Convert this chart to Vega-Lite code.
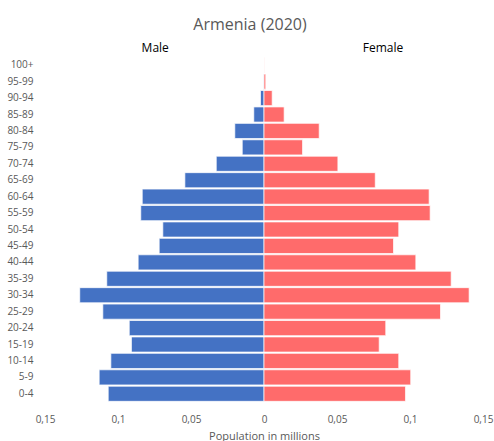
{
  "$schema": "https://vega.github.io/schema/vega-lite/v6.json",
  "width": 438,
  "height": 345,
  "autosize": "none",
  "padding": {"left": 45, "top": 57, "right": 11, "bottom": 39},
  "background": "white",
  "title": {
    "text": "Armenia (2020)",
    "font": "Open Sans",
    "fontSize": 16,
    "fontWeight": "normal",
    "color": "#595959",
    "anchor": "middle",
    "dx": -14,
    "offset": 9
  },
  "config": {
    "view": {"stroke": null},
    "font": "Open Sans"
  },
  "datasets": {
    "pyramid": [
      {"age": "100+", "sex": "Male", "pop": 0.0},
      {"age": "95-99", "sex": "Male", "pop": 0.0003},
      {"age": "90-94", "sex": "Male", "pop": 0.0024},
      {"age": "85-89", "sex": "Male", "pop": 0.0070},
      {"age": "80-84", "sex": "Male", "pop": 0.0200},
      {"age": "75-79", "sex": "Male", "pop": 0.0149},
      {"age": "70-74", "sex": "Male", "pop": 0.0327},
      {"age": "65-69", "sex": "Male", "pop": 0.0542},
      {"age": "60-64", "sex": "Male", "pop": 0.0834},
      {"age": "55-59", "sex": "Male", "pop": 0.0844},
      {"age": "50-54", "sex": "Male", "pop": 0.0693},
      {"age": "45-49", "sex": "Male", "pop": 0.0718},
      {"age": "40-44", "sex": "Male", "pop": 0.0862},
      {"age": "35-39", "sex": "Male", "pop": 0.1077},
      {"age": "30-34", "sex": "Male", "pop": 0.1262},
      {"age": "25-29", "sex": "Male", "pop": 0.1104},
      {"age": "20-24", "sex": "Male", "pop": 0.0923},
      {"age": "15-19", "sex": "Male", "pop": 0.0908},
      {"age": "10-14", "sex": "Male", "pop": 0.1049},
      {"age": "5-9", "sex": "Male", "pop": 0.1129},
      {"age": "0-4", "sex": "Male", "pop": 0.1067},
      {"age": "100+", "sex": "Female", "pop": 0.0001},
      {"age": "95-99", "sex": "Female", "pop": 0.0012},
      {"age": "90-94", "sex": "Female", "pop": 0.0056},
      {"age": "85-89", "sex": "Female", "pop": 0.0138},
      {"age": "80-84", "sex": "Female", "pop": 0.0378},
      {"age": "75-79", "sex": "Female", "pop": 0.0264},
      {"age": "70-74", "sex": "Female", "pop": 0.0506},
      {"age": "65-69", "sex": "Female", "pop": 0.0762},
      {"age": "60-64", "sex": "Female", "pop": 0.1131},
      {"age": "55-59", "sex": "Female", "pop": 0.1138},
      {"age": "50-54", "sex": "Female", "pop": 0.0923},
      {"age": "45-49", "sex": "Female", "pop": 0.0887},
      {"age": "40-44", "sex": "Female", "pop": 0.1040},
      {"age": "35-39", "sex": "Female", "pop": 0.1282},
      {"age": "30-34", "sex": "Female", "pop": 0.1405},
      {"age": "25-29", "sex": "Female", "pop": 0.1209},
      {"age": "20-24", "sex": "Female", "pop": 0.0834},
      {"age": "15-19", "sex": "Female", "pop": 0.0789},
      {"age": "10-14", "sex": "Female", "pop": 0.0923},
      {"age": "5-9", "sex": "Female", "pop": 0.1005},
      {"age": "0-4", "sex": "Female", "pop": 0.0969}
    ],
    "headers": [
      {"sex": "Male", "pos": -0.0745},
      {"sex": "Female", "pos": 0.0815}
    ]
  },
  "layer": [
    {
      "data": {"name": "pyramid"},
      "transform": [
        {"calculate": "datum.sex === 'Male' ? -datum.pop : datum.pop", "as": "signed"}
      ],
      "mark": {"type": "bar", "stroke": "white", "strokeOpacity": 0.7, "strokeWidth": 1},
      "encoding": {
        "y": {
          "field": "age",
          "type": "nominal",
          "sort": null,
          "scale": {
            "domain": ["100+", "95-99", "90-94", "85-89", "80-84", "75-79", "70-74", "65-69", "60-64", "55-59", "50-54", "45-49", "40-44", "35-39", "30-34", "25-29", "20-24", "15-19", "10-14", "5-9", "0-4"],
            "paddingInner": 0.08,
            "paddingOuter": 0.04
          },
          "axis": {
            "title": null,
            "domain": false,
            "ticks": false,
            "labelPadding": 12,
            "labelFont": "Open Sans",
            "labelFontSize": 10,
            "labelColor": "#595959"
          }
        },
        "x": {
          "field": "signed",
          "type": "quantitative",
          "scale": {"domain": [-0.15, 0.15], "nice": false},
          "axis": {
            "values": [-0.15, -0.1, -0.05, 0, 0.05, 0.1, 0.15],
            "labelExpr": "replace(format(abs(datum.value), '~g'), '.', ',')",
            "labelFlush": false,
            "labelOverlap": false,
            "title": "Population in millions",
            "titleFont": "Open Sans",
            "titleFontSize": 11,
            "titleFontWeight": "normal",
            "titleColor": "#595959",
            "titlePadding": 6,
            "labelFont": "Open Sans",
            "labelFontSize": 10,
            "labelColor": "#595959",
            "labelPadding": 12,
            "domain": false,
            "ticks": false,
            "grid": false
          }
        },
        "color": {
          "field": "sex",
          "type": "nominal",
          "scale": {"domain": ["Male", "Female"], "range": ["#4472C4", "#FF6B6B"]},
          "legend": null
        }
      }
    },
    {
      "data": {"name": "headers"},
      "mark": {"type": "text", "font": "Open Sans", "fontSize": 12, "color": "black", "dy": -17, "baseline": "middle"},
      "encoding": {
        "x": {"field": "pos", "type": "quantitative"},
        "y": {"datum": "100+", "type": "nominal"},
        "text": {"field": "sex"}
      }
    }
  ]
}
